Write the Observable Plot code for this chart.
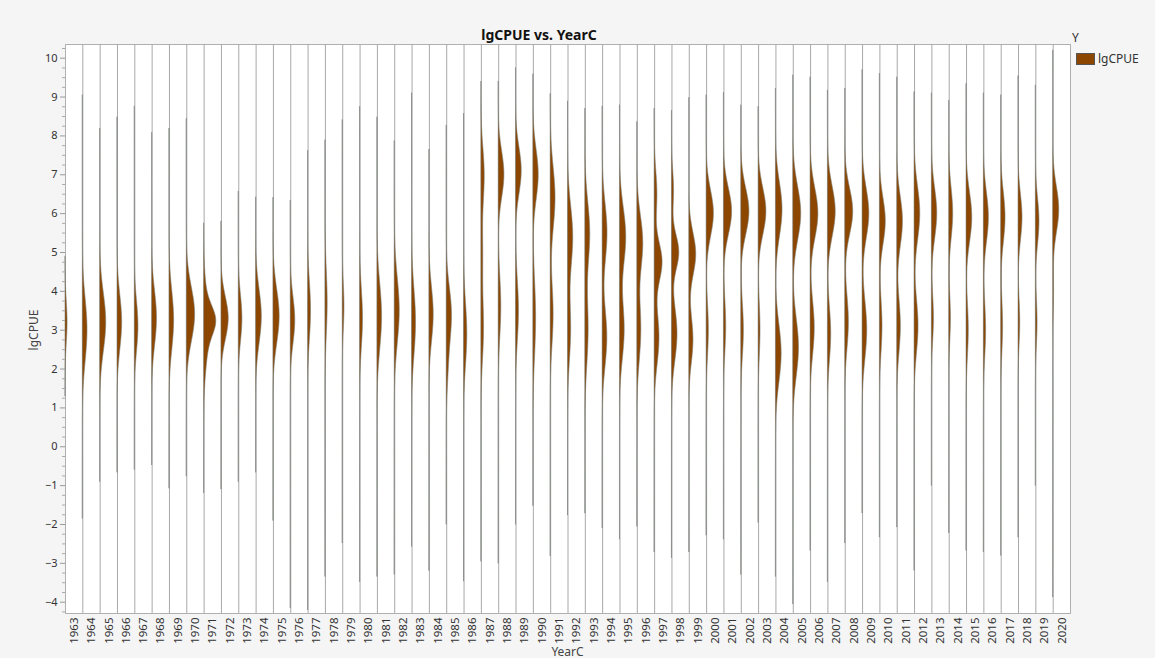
<!DOCTYPE html>
<html>
<head>
<meta charset="utf-8">
<script src="https://cdn.jsdelivr.net/npm/d3@7"></script>
<script src="https://cdn.jsdelivr.net/npm/@observablehq/plot@0.6"></script>
<style>
  body { margin: 0; background: #f5f5f5; font-family: "Noto Sans", "Open Sans", sans-serif; color: #333; }
  #wrap { position: relative; width: 1155px; height: 658px; }
  #title { position: absolute; left: 0; width: 1078px; top: 25px; text-align: center; font-weight: bold; font-size: 14px; color: #111; }
  #xlab { position: absolute; left: 65px; width: 1005px; top: 643px; text-align: center; font-size: 12px; color: #444; }
  #ylab { position: absolute; left: 33px; top: 330px; transform: translate(-50%, -50%) rotate(-90deg); font-size: 12px; color: #444; white-space: nowrap; }
  #legend { position: absolute; left: 1072px; top: 29px; font-size: 12px; color: #333; }
  #legend .head { margin-bottom: 4px; }
  #legend .row { display: flex; align-items: center; }
  #legend .sw { width: 19px; height: 12px; background: #8c4600; border: 1px solid #555; margin: 0 3px 0 4px; box-sizing: border-box; }
</style>
</head>
<body>
<div id="wrap">
  <div id="chart"></div>
  <div id="title">lgCPUE vs. YearC</div>
  <div id="xlab">YearC</div>
  <div id="ylab">lgCPUE</div>
  <div id="legend"><div class="head">Y</div><div class="row"><span class="sw"></span><span>lgCPUE</span></div></div>
</div>
<script>
// Year categories along the x axis
const years = [1963, 1964, 1965, 1966, 1967, 1968, 1969, 1970, 1971, 1972,
  1973, 1974, 1975, 1976, 1977, 1978, 1979, 1980, 1981, 1982,
  1983, 1984, 1985, 1986, 1987, 1988, 1989, 1990, 1991, 1992,
  1993, 1994, 1995, 1996, 1997, 1998, 1999, 2000, 2001, 2002,
  2003, 2004, 2005, 2006, 2007, 2008, 2009, 2010, 2011, 2012,
  2013, 2014, 2015, 2016, 2017, 2018, 2019, 2020];

// Observed lgCPUE range for each year (bottom / top of each violin)
const lows = [1.3, -1.85, -0.9, -0.66, -0.59, -0.47, -1.07, -0.76, -1.19, -1.09,
  -0.9, -0.66, -1.9, -4.15, -4.2, -3.34, -2.48, -3.48, -3.34, -3.29,
  -2.57, -3.19, -2.0, -3.46, -2.95, -3.0, -2.0, -1.52, -2.81, -1.76,
  -1.71, -2.09, -2.38, -2.05, -2.71, -2.86, -2.71, -2.28, -2.38, -3.29,
  -1.95, -3.34, -4.05, -2.67, -3.48, -2.48, -1.71, -2.33, -2.07, -3.18,
  -1.0, -2.22, -2.67, -2.71, -2.8, -2.33, -1.0, -3.87];
const highs = [4.9, 9.05, 8.19, 8.48, 8.76, 8.08, 8.19, 8.44, 5.75, 5.8,
  6.57, 6.42, 6.41, 6.34, 7.62, 7.89, 8.41, 8.75, 8.48, 7.87,
  9.1, 7.65, 8.27, 8.57, 9.4, 9.4, 9.75, 9.59, 9.08, 8.89,
  8.7, 8.76, 8.79, 8.36, 8.7, 8.65, 8.98, 9.05, 9.11, 8.79,
  8.75, 9.22, 9.56, 9.51, 9.17, 9.22, 9.7, 9.6, 9.51, 9.13,
  9.1, 8.91, 9.34, 9.1, 9.05, 9.54, 9.3, 10.2];

// Density modes per year: [centre, spread, density height]
const modes = [
  [[3.2, 0.55, 0.12]],
  [[3.0, 0.8, 0.27]],
  [[3.2, 0.75, 0.35]],
  [[3.2, 0.7, 0.27]],
  [[3.1, 0.65, 0.21]],
  [[3.3, 0.7, 0.28]],
  [[3.25, 0.75, 0.27]],
  [[3.4, 0.7, 0.48]],
  [[3.25, 0.35, 0.42], [3.05, 0.85, 0.29]],
  [[3.3, 0.55, 0.42]],
  [[3.3, 0.6, 0.21]],
  [[3.35, 0.7, 0.33]],
  [[3.35, 0.7, 0.36]],
  [[3.25, 0.6, 0.26]],
  [[3.5, 0.75, 0.17]],
  [[3.7, 0.85, 0.13]],
  [[3.6, 0.6, 0.1]],
  [[3.3, 0.75, 0.17]],
  [[3.35, 0.85, 0.27]],
  [[3.5, 0.85, 0.29]],
  [[3.2, 0.85, 0.23]],
  [[3.4, 0.7, 0.25]],
  [[3.4, 0.7, 0.3], [2.0, 0.6, 0.08]],
  [[2.9, 0.8, 0.19]],
  [[7.0, 0.7, 0.19], [5.0, 0.8, 0.1], [3.0, 0.8, 0.15]],
  [[7.0, 0.6, 0.33], [3.6, 0.8, 0.15]],
  [[7.1, 0.6, 0.33], [3.5, 0.8, 0.17]],
  [[7.0, 0.65, 0.31], [3.3, 1.0, 0.16]],
  [[6.4, 0.8, 0.28], [3.4, 0.8, 0.17]],
  [[5.4, 0.8, 0.3], [3.0, 0.8, 0.18]],
  [[5.5, 0.8, 0.28], [3.0, 0.9, 0.19]],
  [[5.5, 0.75, 0.28], [2.8, 0.75, 0.27]],
  [[5.4, 0.75, 0.36], [3.0, 0.75, 0.27]],
  [[5.25, 0.7, 0.34], [3.0, 0.8, 0.23]],
  [[4.75, 0.5, 0.45], [6.5, 0.6, 0.16], [2.8, 0.7, 0.28]],
  [[5.0, 0.45, 0.42], [6.6, 0.5, 0.12], [2.9, 0.7, 0.32]],
  [[4.95, 0.55, 0.4], [2.75, 0.6, 0.24]],
  [[6.0, 0.6, 0.42], [3.0, 0.7, 0.13]],
  [[6.05, 0.6, 0.47], [3.1, 0.7, 0.13]],
  [[6.05, 0.6, 0.47], [3.0, 0.7, 0.15]],
  [[6.05, 0.6, 0.45], [3.0, 0.7, 0.11]],
  [[6.1, 0.7, 0.38], [2.4, 0.75, 0.33]],
  [[6.0, 0.7, 0.46], [2.55, 0.75, 0.33]],
  [[6.0, 0.65, 0.45], [3.05, 0.7, 0.24]],
  [[6.05, 0.65, 0.45], [2.9, 0.7, 0.19]],
  [[6.05, 0.6, 0.46], [3.2, 0.7, 0.21]],
  [[6.0, 0.65, 0.39], [3.0, 0.75, 0.27]],
  [[5.8, 0.6, 0.34], [3.1, 0.7, 0.15]],
  [[5.8, 0.65, 0.33], [3.1, 0.7, 0.21]],
  [[6.0, 0.7, 0.33], [3.1, 0.7, 0.23]],
  [[6.0, 0.65, 0.31], [3.3, 0.6, 0.12]],
  [[6.0, 0.65, 0.23], [3.3, 0.6, 0.1]],
  [[5.9, 0.65, 0.33], [3.0, 0.7, 0.13]],
  [[5.9, 0.65, 0.29], [3.0, 0.7, 0.13]],
  [[5.9, 0.65, 0.25], [3.1, 0.7, 0.11]],
  [[5.9, 0.6, 0.23], [3.2, 0.6, 0.1]],
  [[5.8, 0.6, 0.21], [3.2, 0.6, 0.1]],
  [[6.1, 0.6, 0.35], [4.0, 0.6, 0.05]]
];

const yTicks = [-4, -3, -2, -1, 0, 1, 2, 3, 4, 5, 6, 7, 8, 9, 10];

// Build each violin's outline: density along lgCPUE within the observed range
const profile = [];
years.forEach((yr, i) => {
  const lo = lows[i], hi = highs[i];
  const n = Math.max(2, Math.round((hi - lo) / 0.02));
  for (let k = 0; k <= n; k++) {
    const v = lo + (hi - lo) * k / n;
    const d = modes[i].reduce((s, [c, w, h]) => s + h * Math.exp(-0.5 * ((v - c) / w) ** 2), 0);
    profile.push({year: yr, idx: i, v, d});
  }
});

const minor = d3.range(-4.25, 10.3, 0.25).filter(t => Math.abs(t - Math.round(t)) > 1e-6);
const bandEdges = d3.range(1, years.length);
const bandCenters = years.map((_, i) => i + 0.5);

const chart = Plot.plot({
  width: 1155,
  height: 658,
  marginLeft: 65,
  marginRight: 85,
  marginTop: 44,
  marginBottom: 45,
  style: {background: "transparent", fontFamily: "'Noto Sans', 'Open Sans', sans-serif", fontSize: "11px", color: "#333"},
  x: {domain: [0, years.length], axis: null, label: null},
  y: {domain: [-4.291, 10.353], axis: null, label: null},
  marks: [
    Plot.frame({fill: "white", stroke: "#b0b0b0"}),
    Plot.ruleX(bandEdges, {stroke: "#a8a8a8", strokeWidth: 1}),
    Plot.areaX(profile, {
      y: "v",
      x1: "idx",
      x2: d => d.idx + d.d,
      z: "year",
      fill: "#8c4600",
      stroke: "#7b7f79",
      strokeWidth: 0.6
    }),
    Plot.axisY(yTicks, {tickSize: 5, tickPadding: 3, stroke: "#999", fill: "#333", fontSize: 11}),
    Plot.axisY(minor, {tickSize: 3, tickFormat: () => "", stroke: "#aaa"}),
    Plot.axisX(bandCenters, {
      tickSize: 0,
      tickPadding: 4,
      tickRotate: -90,
      tickFormat: t => String(years[Math.floor(t)]),
      fill: "#333",
      fontSize: 11.5
    })
  ]
});
document.getElementById("chart").appendChild(chart);
</script>
</body>
</html>
